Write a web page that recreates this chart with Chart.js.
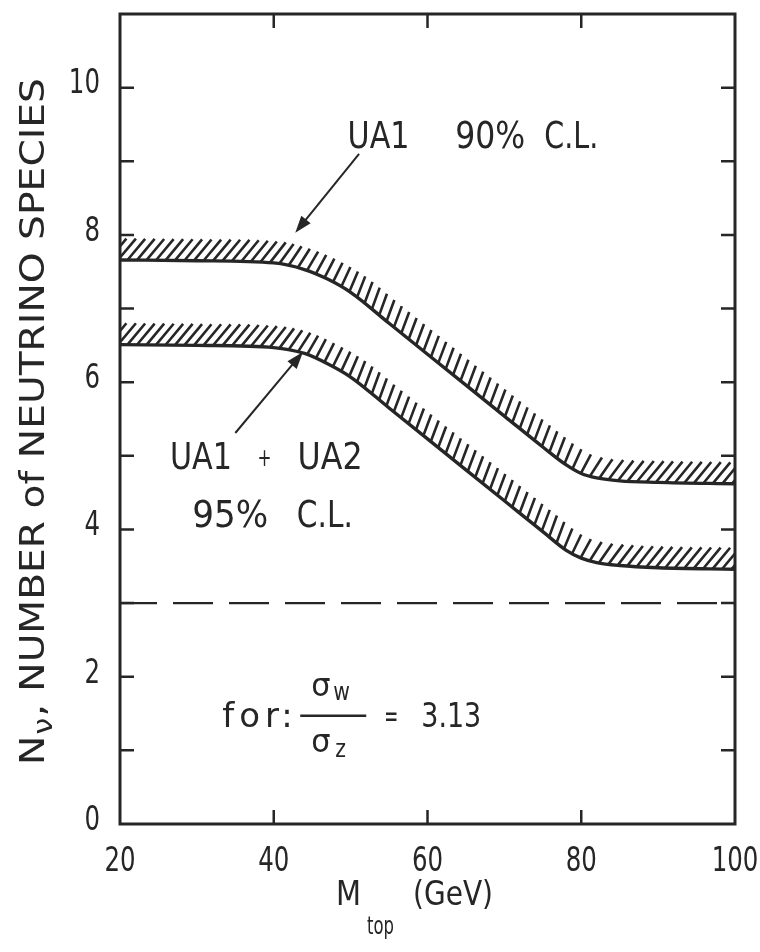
<!DOCTYPE html>
<html>
<head>
<meta charset="utf-8">
<title>Neutrino species limit vs top mass</title>
<script src="https://cdn.jsdelivr.net/npm/chart.js@4.4.1/dist/chart.umd.min.js"></script>
<style>
  html, body { margin: 0; padding: 0; background: #fff; }
</style>
</head>
<body>
<canvas id="chart-nu" width="760" height="952"></canvas>
<script>
/* Upper limit on the number of neutrino species from sigma_W / sigma_Z,
   as a function of the top quark mass */

const massPoints = [20, 30, 40, 44, 47, 50, 55, 60, 65, 70, 75, 78, 80, 82, 85, 90, 100];
const limitUA1   = [7.66, 7.65, 7.62, 7.53, 7.40, 7.22, 6.80, 6.38, 5.96, 5.54, 5.12, 4.88, 4.76, 4.70, 4.66, 4.64, 4.62];
const limitUA12  = [6.51, 6.50, 6.47, 6.39, 6.25, 6.07, 5.65, 5.23, 4.81, 4.39, 3.97, 3.72, 3.61, 3.55, 3.51, 3.48, 3.46];
const smMass     = [20, 100];
const smSpecies  = [3, 3];
const xLabelled  = [20, 40, 60, 80, 100];
const yLabelled  = [0, 2, 4, 6, 8, 10];

const INK  = '#262626';
const FONT = "'DejaVu Sans', sans-serif";
const TICK = 14;
const NARROW = 0.72;   // stencil lettering is much narrower than DejaVu

Chart.defaults.font.family = FONT;
Chart.defaults.color = INK;

function pts(xs, ys) { return xs.map((m, i) => ({ x: m, y: ys[i] })); }

/* draw text squeezed horizontally; width > 0 fits the string to that width */
function squeezed(ctx, str, x, y, size, width, align) {
  ctx.font = size + 'px ' + FONT;
  ctx.letterSpacing = '0px';
  const w = ctx.measureText(str).width;
  const sx = width > 0 ? width / w : (width < 0 ? -width : NARROW);
  ctx.save();
  ctx.translate(x, y);
  ctx.scale(sx, 1);
  ctx.textAlign = align || 'left';
  ctx.fillText(str, 0, 0);
  ctx.restore();
}

/* flatten the bezier line Chart.js draws into a dense polyline */
function samplePath(points) {
  const out = [];
  const first = points[0], last = points[points.length - 1];
  for (let dx = -40; dx < 0; dx += 2) out.push({ x: first.x + dx, y: first.y });
  out.push({ x: first.x, y: first.y });
  for (let i = 1; i < points.length; i++) {
    const p = points[i - 1], q = points[i];
    const c1x = p.cp2x ?? p.x, c1y = p.cp2y ?? p.y;
    const c2x = q.cp1x ?? q.x, c2y = q.cp1y ?? q.y;
    for (let s = 1; s <= 24; s++) {
      const t = s / 24, u = 1 - t;
      out.push({
        x: u*u*u*p.x + 3*u*u*t*c1x + 3*u*t*t*c2x + t*t*t*q.x,
        y: u*u*u*p.y + 3*u*u*t*c1y + 3*u*t*t*c2y + t*t*t*q.y
      });
    }
  }
  for (let dx = 2; dx <= 40; dx += 2) out.push({ x: last.x + dx, y: last.y });
  return out;
}

/* hatching on the excluded side of a limit curve */
const hatchBand = {
  id: 'hatchBand',
  beforeDatasetsDraw(chart, args, opts) {
    const { ctx, chartArea: a, scales: { y } } = chart;
    const depth = y.getPixelForValue(0) - y.getPixelForValue(opts.depth);
    const base = opts.angle * Math.PI / 180;

    ctx.save();
    ctx.beginPath();
    ctx.rect(a.left, a.top, a.right - a.left, a.bottom - a.top);
    ctx.clip();
    ctx.strokeStyle = INK;
    ctx.lineWidth = opts.width;
    ctx.lineCap = 'butt';

    chart.data.datasets.forEach((ds, i) => {
      if (!ds.hatch) return;
      const meta = chart.getDatasetMeta(i);
      meta.dataset.updateControlPoints(a, 'x');
      const line = samplePath(meta.data);

      ctx.beginPath();
      let acc = 0, next = 0;
      for (let k = 0; k < line.length - 1; k++) {
        const p = line[k], q = line[k + 1];
        const dx = q.x - p.x, dy = q.y - p.y;
        const len = Math.hypot(dx, dy);
        if (!len) continue;
        const theta = Math.atan2(-dy, dx);
        const phi = base - 0.5 * theta;
        const L = depth / Math.sin(phi - theta);
        while (next <= acc + len) {
          const f = (next - acc) / len;
          const sx = p.x + dx * f, sy = p.y + dy * f;
          ctx.moveTo(sx, sy);
          ctx.lineTo(sx + L * Math.cos(phi), sy - L * Math.sin(phi));
          next += opts.gap;
        }
        acc += len;
      }
      ctx.stroke();
    });
    ctx.restore();
  }
};

/* boxed frame, inward ticks on all four sides, narrow tick numbers */
const frameTicks = {
  id: 'frameTicks',
  afterDatasetsDraw(chart) {
    const { ctx, chartArea: a, scales: { x, y } } = chart;
    ctx.save();
    ctx.strokeStyle = INK;
    ctx.fillStyle = INK;
    ctx.lineWidth = 3;
    ctx.strokeRect(a.left, a.top, a.right - a.left, a.bottom - a.top);
    ctx.lineWidth = 2.5;
    ctx.beginPath();
    x.ticks.forEach(t => {
      if (t.value <= x.min || t.value >= x.max) return;
      const px = x.getPixelForValue(t.value);
      ctx.moveTo(px, a.bottom); ctx.lineTo(px, a.bottom - TICK);
      ctx.moveTo(px, a.top);    ctx.lineTo(px, a.top + TICK);
    });
    y.ticks.forEach(t => {
      if (t.value <= y.min || t.value >= y.max) return;
      const py = y.getPixelForValue(t.value);
      ctx.moveTo(a.left, py);  ctx.lineTo(a.left + TICK, py);
      ctx.moveTo(a.right, py); ctx.lineTo(a.right - TICK, py);
    });
    ctx.stroke();

    ctx.textBaseline = 'alphabetic';
    xLabelled.forEach(v => {
      squeezed(ctx, String(v), x.getPixelForValue(v), a.bottom + 47, 34, 0, 'center');
    });
    ctx.textBaseline = 'middle';
    yLabelled.forEach(v => {
      squeezed(ctx, String(v), a.left - 20, y.getPixelForValue(v) - 3, 34, 0, 'right');
    });
    ctx.restore();
  }
};

function arrow(ctx, x0, y0, x1, y1) {
  const ang = Math.atan2(y1 - y0, x1 - x0);
  const head = 17, half = 6;
  ctx.beginPath();
  ctx.moveTo(x0, y0);
  ctx.lineTo(x1 - head * 0.8 * Math.cos(ang), y1 - head * 0.8 * Math.sin(ang));
  ctx.stroke();
  ctx.beginPath();
  ctx.moveTo(x1, y1);
  ctx.lineTo(x1 - head * Math.cos(ang) + half * Math.sin(ang), y1 - head * Math.sin(ang) - half * Math.cos(ang));
  ctx.lineTo(x1 - head * Math.cos(ang) - half * Math.sin(ang), y1 - head * Math.sin(ang) + half * Math.cos(ang));
  ctx.closePath();
  ctx.fill();
}

/* curve labels, arrows, cross-section ratio and axis titles */
const annotations = {
  id: 'annotations',
  afterDraw(chart) {
    const { ctx, scales: { x, y } } = chart;
    const X = m => x.getPixelForValue(m), Y = n => y.getPixelForValue(n);
    ctx.save();
    ctx.fillStyle = INK;
    ctx.strokeStyle = INK;
    ctx.textBaseline = 'alphabetic';

    // UA1 90% C.L.
    squeezed(ctx, 'UA1',  X(49.6), Y(9.18), 37, 62);
    squeezed(ctx, '90%',  X(63.6), Y(9.18), 37, 70);
    squeezed(ctx, 'C.L.', X(75.2), Y(9.18), 37, 54);
    ctx.lineWidth = 2;
    arrow(ctx, X(51.1), Y(9.10), X(42.8), Y(8.03));

    // UA1 + UA2 95% C.L.
    squeezed(ctx, 'UA1',  X(26.5), Y(4.82), 37, 62);
    squeezed(ctx, '+',    X(37.9), Y(4.86), 24, 14);
    squeezed(ctx, 'UA2',  X(43.1), Y(4.82), 37, 65);
    squeezed(ctx, '95%',  X(29.4), Y(4.03), 37, 76);
    squeezed(ctx, 'C.L.', X(43.0), Y(4.03), 37, 56);
    arrow(ctx, X(35.0), Y(5.31), X(43.8), Y(6.41));

    // for : sigma_W / sigma_Z = 3.13
    const fx = X(33.3), fy = Y(1.32);
    ctx.font = '34px ' + FONT;
    ctx.letterSpacing = '5px';
    ctx.fillText('for', fx, fy);
    ctx.letterSpacing = '0px';
    squeezed(ctx, ':', fx + 59, fy, 34, -1);
    ctx.lineWidth = 2.5;
    ctx.beginPath();
    ctx.moveTo(fx + 78, fy - 11); ctx.lineTo(fx + 144, fy - 11);
    ctx.stroke();
    squeezed(ctx, 'σ', fx + 89, fy - 31, 32, -0.95);
    squeezed(ctx, 'w', fx + 111, fy - 27, 24, -0.85);
    squeezed(ctx, 'σ', fx + 89, fy + 25, 32, -0.95);
    squeezed(ctx, 'z', fx + 113, fy + 30, 24, -0.85);
    squeezed(ctx, '=', fx + 162, fy - 1, 30, 14);
    squeezed(ctx, '3.13', fx + 199, fy, 33, 60);

    // x title: M_top (GeV)
    squeezed(ctx, 'M', 336, 905, 34, 25);
    squeezed(ctx, 'top', 367, 934, 24, 27);
    squeezed(ctx, '(GeV)', 413, 905, 34, 80);

    // y title: N_nu, NUMBER of NEUTRINO SPECIES, squeezed to fit the axis
    ctx.translate(44, 765);
    ctx.rotate(-Math.PI / 2);
    ctx.letterSpacing = '0px';
    ctx.font = '34px ' + FONT;
    const wN = ctx.measureText('N').width;
    const rest = ', NUMBER of NEUTRINO SPECIES';
    const wRest = ctx.measureText(rest).width;
    ctx.font = '26px ' + FONT;
    const wNu = ctx.measureText('ν').width;
    const total = wN + wNu + 2 + wRest;
    ctx.scale(687 / total, 1);
    ctx.font = '34px ' + FONT;
    ctx.fillText('N', 0, 0);
    ctx.font = '26px ' + FONT;
    ctx.fillText('ν', wN + 1, 8);
    ctx.font = '34px ' + FONT;
    ctx.fillText(rest, wN + wNu + 2, 0);
    ctx.restore();
  }
};

new Chart(document.getElementById('chart-nu'), {
  type: 'line',
  data: {
    datasets: [
      {
        label: 'UA1 90% C.L.',
        data: pts(massPoints, limitUA1),
        hatch: true,
        borderColor: INK, borderWidth: 3.4,
        pointRadius: 0, cubicInterpolationMode: 'monotone', fill: false
      },
      {
        label: 'UA1 + UA2 95% C.L.',
        data: pts(massPoints, limitUA12),
        hatch: true,
        borderColor: INK, borderWidth: 3.4,
        pointRadius: 0, cubicInterpolationMode: 'monotone', fill: false
      },
      {
        label: 'N = 3',
        data: pts(smMass, smSpecies),
        borderColor: INK, borderWidth: 2.4,
        borderDash: [40, 16], borderDashOffset: 3,
        pointRadius: 0, tension: 0, fill: false
      }
    ]
  },
  options: {
    responsive: false,
    animation: false,
    layout: { padding: { top: 14, right: 25, bottom: 0, left: 0 } },
    plugins: {
      legend: { display: false },
      tooltip: { enabled: false },
      hatchBand: { depth: 0.29, angle: 50, gap: 9.5, width: 2.6 }
    },
    scales: {
      x: {
        type: 'linear', min: 20, max: 100,
        grid: { display: false, drawTicks: false },
        border: { display: false },
        ticks: { display: false, stepSize: 20 },
        afterFit: s => { s.height = 128; s.paddingLeft = 0; s.paddingRight = 0; }
      },
      y: {
        min: 0, max: 11,
        grid: { display: false, drawTicks: false },
        border: { display: false },
        ticks: { display: false, stepSize: 1 },
        afterFit: s => { s.width = 120; s.paddingTop = 0; s.paddingBottom = 0; }
      }
    }
  },
  plugins: [hatchBand, frameTicks, annotations]
});
</script>
</body>
</html>
